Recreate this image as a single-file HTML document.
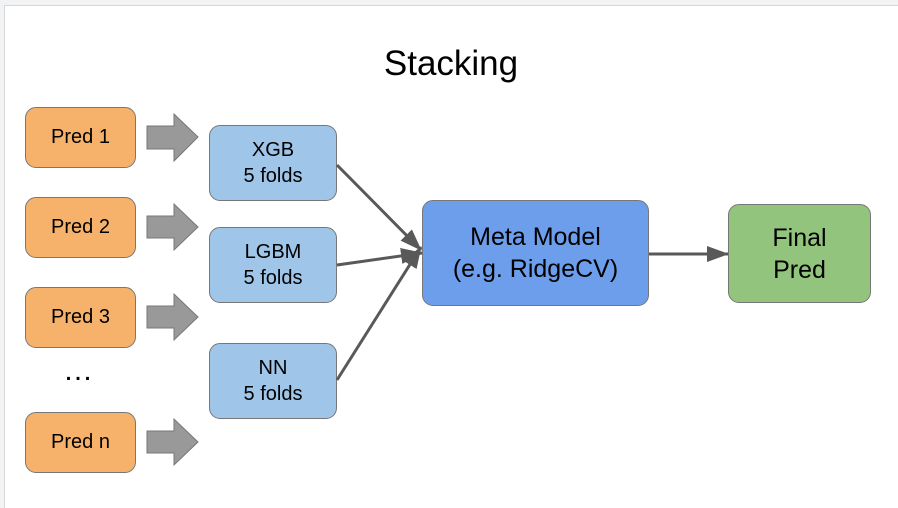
<!DOCTYPE html>
<html><head><style>
html,body{margin:0;width:898px;height:508px;overflow:hidden}
body{background:#f1f3f4;font-family:"Liberation Sans",Arial,sans-serif;position:relative}
.panel{position:absolute;left:4px;top:5px;width:894px;height:503px;background:#fff;border-left:1px solid #d6d6d6;border-top:1px solid #d6d6d6;box-sizing:border-box}
.b{position:absolute;box-sizing:border-box;border:1px solid #777;border-radius:11px;display:flex;align-items:center;justify-content:center;text-align:center;color:#000}
.p{background:#f6b26b;font-size:20px;left:25px;width:111px;height:61px}
.m{background:#9fc5e8;font-size:20px;line-height:26px;left:209px;width:128px;height:76px}
</style></head><body>
<div class="panel"></div>
<div style="position:absolute;left:2px;width:898px;top:44px;text-align:center;font-size:35px">Stacking</div>
<div class="b p" style="top:107px">Pred 1</div>
<div class="b p" style="top:197px">Pred 2</div>
<div class="b p" style="top:287px">Pred 3</div>
<div class="b p" style="top:412px">Pred n</div>
<div style="position:absolute;left:63px;top:354px;font-size:30px">…</div>
<div class="b m" style="top:125px">XGB<br>5 folds</div>
<div class="b m" style="top:227px">LGBM<br>5 folds</div>
<div class="b m" style="top:343px">NN<br>5 folds</div>
<div class="b" style="left:422px;top:200px;width:227px;height:106px;background:#6d9eeb;font-size:25px;line-height:32px">Meta Model<br>(e.g. RidgeCV)</div>
<div class="b" style="left:728px;top:204px;width:143px;height:99px;background:#93c47d;font-size:25px;line-height:32px">Final<br>Pred</div>
<svg width="898" height="508" style="position:absolute;left:0;top:0">
<defs><marker id="a" markerWidth="22" markerHeight="16" refX="21" refY="8" orient="auto" markerUnits="userSpaceOnUse"><path d="M0,0L22,8L0,16z" fill="#595959"/></marker></defs>
<g fill="#999" stroke="#777" stroke-width="1">
<path d="M147,126H174V114L198,137L174,161V149H147Z"/>
<path d="M147,216H174V204L198,227L174,250V238H147Z"/>
<path d="M147,306H174V294L198,317L174,340V328H147Z"/>
<path d="M147,431H174V419L198,442L174,465V453H147Z"/>
</g>
<g stroke="#595959" stroke-width="3" fill="none">
<line x1="337" y1="165" x2="421" y2="250" marker-end="url(#a)"/>
<line x1="337" y1="265" x2="422" y2="253" marker-end="url(#a)"/>
<line x1="337" y1="380" x2="421" y2="247" marker-end="url(#a)"/>
<line x1="649" y1="254" x2="728" y2="254" marker-end="url(#a)"/>
</g>
</svg>
</body></html>
